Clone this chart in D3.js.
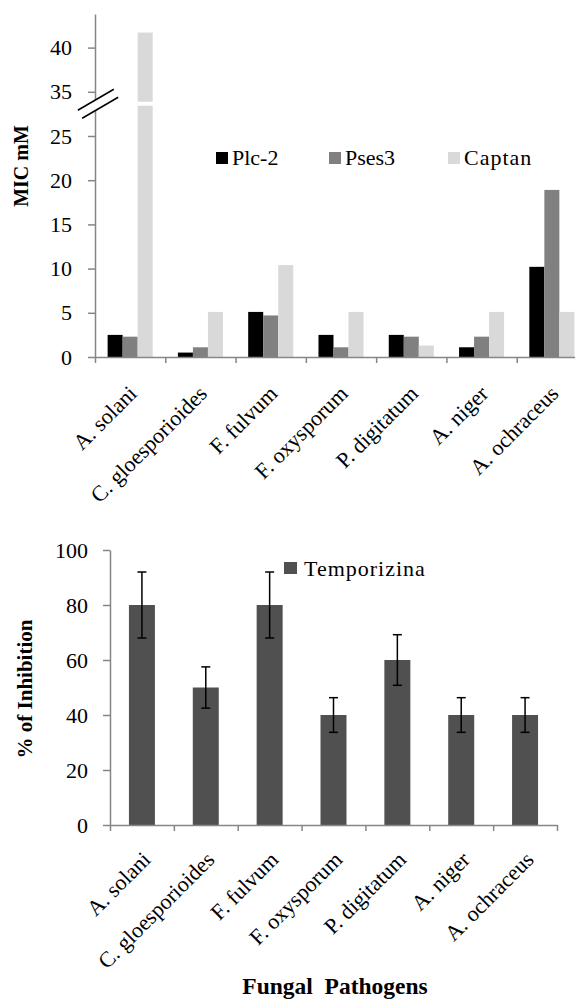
<!DOCTYPE html>
<html>
<head>
<meta charset="utf-8">
<script src="https://cdn.jsdelivr.net/npm/d3@7"></script>
<style>
  body { margin: 0; background: #fff; }
  svg { display: block; font-family: "Liberation Serif", "Times New Roman", serif; }
</style>
</head>
<body>
<script>
// data
var pathogens = ["A. solani", "C. gloesporioides", "F. fulvum", "F. oxysporum", "P. digitatum", "A. niger", "A. ochraceus"];
var micSeries = ["Plc-2", "Pses3", "Captan"];
var plc2   = [2.5, 0.5, 5.1, 2.5, 2.5, 1.1, 10.2];
var pses3  = [2.3, 1.1, 4.7, 1.1, 2.3, 2.3, 18.9];
var captan = [41.7, 5.1, 10.4, 5.1, 1.3, 5.1, 5.1];
var micTicks = [0, 5, 10, 15, 20, 25, 35, 40];
var breakVal = 32.3;

var inhSeries = ["Temporizina"];
var temporizina = [80, 50, 80, 40, 60, 40, 40];
var tempErr     = [12, 7.5, 12, 6.3, 9.2, 6.3, 6.3];
var inhTicks = [0, 20, 40, 60, 80, 100];

var W = 575, H = 1000;
var serif = "Liberation Serif, Times New Roman, serif";
var axisColor = "#868686";
var micColors = ["#000000", "#808080", "#d9d9d9"];

var svg = d3.select("body").append("svg").attr("width", W).attr("height", H);

function styleAxis(a) {
    a.attr("font-family", serif);
    a.select(".domain").attr("stroke", axisColor).attr("stroke-width", 1.5);
    a.selectAll(".tick line").attr("stroke", axisColor).attr("stroke-width", 1.5);
    a.selectAll(".tick text").attr("font-size", 22).attr("fill", "#000").attr("font-family", serif);
}

/*
    Top chart: MIC with a broken y axis
*/
var top0 = 357;
var y1 = d3.scaleLinear().domain([0, 25, 35, 43.8]).range([top0, 136, 91.8, 14]);
var x1 = d3.scaleBand().domain(pathogens).range([95, 587]);
var xs1 = d3.scaleBand().domain(micSeries).range([0, x1.bandwidth()]).paddingOuter(0.84);
var xt1 = d3.scaleLinear().domain([0, pathogens.length]).range(x1.range());

var g1 = svg.append("g");
var micData = [plc2, pses3, captan];

micSeries.forEach(function (s, si) {
    g1.selectAll(".bar" + si)
        .data(micData[si])
        .enter()
        .append("rect")
        .attr("x", function (d, i) { return x1(pathogens[i]) + xs1(s); })
        .attr("width", xs1.bandwidth())
        .attr("y", function (d) { return y1(d); })
        .attr("height", function (d) { return top0 - y1(d); })
        .attr("fill", micColors[si]);
});

var ya1 = g1.append("g").attr("transform", "translate(95,0)")
    .call(d3.axisLeft(y1).tickValues(micTicks).tickSize(7).tickSizeOuter(0).tickPadding(16));
var xa1 = g1.append("g").attr("transform", "translate(0," + top0 + ")")
    .call(d3.axisBottom(xt1).tickValues(d3.range(pathogens.length + 1)).tickFormat("").tickSize(6).tickSizeOuter(0));
styleAxis(ya1);
styleAxis(xa1);

// the break: white gap in the tall bar and two slanted marks on the axis
var yb = y1(breakVal);
g1.append("rect")
    .attr("x", 95).attr("y", yb - 2).attr("width", x1.range()[1] - 95).attr("height", 4)
    .attr("fill", "#fff");
var bx = 98, dx = 18, dy = 10.5;
g1.append("path")
    .attr("d", "M" + (bx - 2.2 - dx) + "," + (yb - 4 + dy) + "L" + (bx - 2.2 + dx) + "," + (yb - 4 - dy) +
               "L" + (bx + 2.2 + dx) + "," + (yb + 4 - dy) + "L" + (bx + 2.2 - dx) + "," + (yb + 4 + dy) + "Z")
    .attr("fill", "#fff");
[-1, 1].forEach(function (k) {
    g1.append("line")
        .attr("x1", bx + k * 2.2 - dx).attr("y1", yb + k * 4 + dy)
        .attr("x2", bx + k * 2.2 + dx).attr("y2", yb + k * 4 - dy)
        .attr("stroke", "#000").attr("stroke-width", 1.5);
});

g1.selectAll(".lab1")
    .data(pathogens)
    .enter()
    .append("text")
    .attr("transform", function (d) {
        return "translate(" + (x1(d) + x1.bandwidth() / 2 + 8) + "," + (top0 + 38) + ") rotate(-45)";
    })
    .attr("text-anchor", "end")
    .attr("font-size", 22)
    .text(function (d) { return d; });

var leg1 = [216, 329, 448];
micSeries.forEach(function (s, si) {
    g1.append("rect").attr("x", leg1[si]).attr("y", 152).attr("width", 12).attr("height", 12).attr("fill", micColors[si]);
    g1.append("text").attr("x", leg1[si] + 16).attr("y", 165).attr("font-size", 22)
        .attr("letter-spacing", si === 2 ? 1 : 0).text(s);
});

g1.append("text")
    .attr("transform", "translate(28,166) rotate(-90)")
    .attr("text-anchor", "middle")
    .attr("font-size", 20).attr("font-weight", "bold")
    .text("MIC mM");

/*
    Bottom chart: % of inhibition
*/
var base2 = 825;
var y2 = d3.scaleLinear().domain([0, 100]).range([base2, 550]);
var x2 = d3.scaleBand().domain(pathogens).range([110, 557]).paddingInner(0.593).paddingOuter(0.2965);
var xt2 = d3.scaleLinear().domain([0, pathogens.length]).range(x2.range());

var g2 = svg.append("g");

g2.selectAll(".bar2")
    .data(temporizina)
    .enter()
    .append("rect")
    .attr("x", function (d, i) { return x2(pathogens[i]); })
    .attr("width", x2.bandwidth())
    .attr("y", function (d) { return y2(d); })
    .attr("height", function (d) { return base2 - y2(d) + 1; })
    .attr("fill", "#505050");

var eb = g2.selectAll(".err")
    .data(temporizina)
    .enter()
    .append("g")
    .attr("transform", function (d, i) { return "translate(" + (x2(pathogens[i]) + x2.bandwidth() / 2) + ",0)"; });
eb.append("line")
    .attr("y1", function (d, i) { return y2(d + tempErr[i]); })
    .attr("y2", function (d, i) { return y2(d - tempErr[i]); })
    .attr("stroke", "#000").attr("stroke-width", 1.5);
[1, -1].forEach(function (k) {
    eb.append("line")
        .attr("x1", -4.5).attr("x2", 4.5)
        .attr("y1", function (d, i) { return y2(d + k * tempErr[i]); })
        .attr("y2", function (d, i) { return y2(d + k * tempErr[i]); })
        .attr("stroke", "#000").attr("stroke-width", 1.5);
});

var ya2 = g2.append("g").attr("transform", "translate(110,0)")
    .call(d3.axisLeft(y2).tickValues(inhTicks).tickSize(7).tickSizeOuter(0).tickPadding(15));
var xa2 = g2.append("g").attr("transform", "translate(0," + base2 + ")")
    .call(d3.axisBottom(xt2).tickValues(d3.range(pathogens.length + 1)).tickFormat("").tickSize(6).tickSizeOuter(0));
styleAxis(ya2);
styleAxis(xa2);

g2.selectAll(".lab2")
    .data(pathogens)
    .enter()
    .append("text")
    .attr("transform", function (d) {
        return "translate(" + (x2(d) + x2.bandwidth() / 2 + 10) + "," + (base2 + 36) + ") rotate(-45)";
    })
    .attr("text-anchor", "end")
    .attr("font-size", 22)
    .text(function (d) { return d; });

g2.append("rect").attr("x", 284).attr("y", 562).attr("width", 13).attr("height", 12).attr("fill", "#505050");
g2.append("text").attr("x", 304).attr("y", 576).attr("font-size", 22).attr("letter-spacing", 1).text(inhSeries[0]);

g2.append("text")
    .attr("transform", "translate(32,689) rotate(-90)")
    .attr("text-anchor", "middle")
    .attr("font-size", 21).attr("font-weight", "bold")
    .text("% of Inhibition");

svg.append("text")
    .attr("x", 335).attr("y", 994)
    .attr("text-anchor", "middle")
    .attr("font-size", 23.5).attr("font-weight", "bold")
    .style("white-space", "pre")
    .text("Fungal  Pathogens");
</script>
</body>
</html>
